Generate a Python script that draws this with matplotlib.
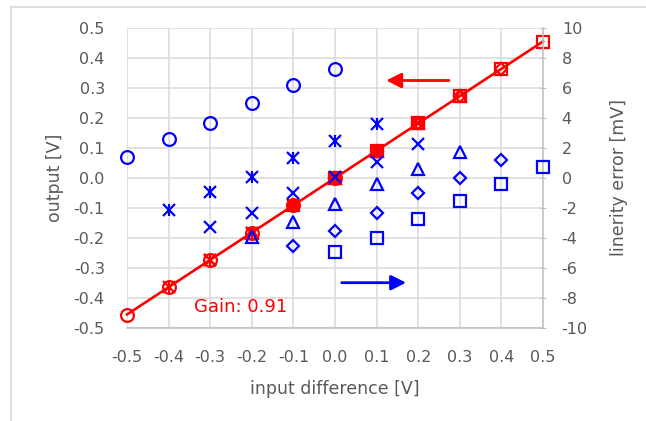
import matplotlib
matplotlib.use("Agg")
import matplotlib.pyplot as plt
from matplotlib.lines import Line2D

# ---- data ----
x_circle = [-0.5, -0.4, -0.3, -0.2, -0.1, 0.0]
x_star = [-0.4, -0.3, -0.2, -0.1, 0.0, 0.1]
x_cross = [-0.3, -0.2, -0.1, 0.0, 0.1, 0.2]
x_tri = [-0.2, -0.1, 0.0, 0.1, 0.2, 0.3]
x_dia = [-0.1, 0.0, 0.1, 0.2, 0.3, 0.4]
x_sq = [0.0, 0.1, 0.2, 0.3, 0.4, 0.5]

out_circle = [-0.455, -0.364, -0.273, -0.182, -0.091, 0.0]
out_star = [-0.364, -0.273, -0.182, -0.091, 0.0, 0.091]
out_cross = [-0.273, -0.182, -0.091, 0.0, 0.091, 0.182]
out_tri = [-0.182, -0.091, 0.0, 0.091, 0.182, 0.273]
out_dia = [-0.091, 0.0, 0.091, 0.182, 0.273, 0.364]
out_sq = [0.0, 0.091, 0.182, 0.273, 0.364, 0.455]

err_circle = [1.4, 2.6, 3.7, 5.0, 6.2, 7.25]
err_star = [-2.1, -0.9, 0.05, 1.35, 2.5, 3.6]
err_cross = [-3.25, -2.3, -1.0, 0.1, 1.1, 2.25]
err_tri = [-3.95, -2.9, -1.75, -0.4, 0.6, 1.75]
err_dia = [-4.55, -3.5, -2.35, -1.0, 0.0, 1.2]
err_sq = [-4.9, -4.0, -2.75, -1.5, -0.4, 0.75]

fit_x = [-0.5, 0.5]
fit_y = [-0.455, 0.455]

x_ticks = [-0.5, -0.4, -0.3, -0.2, -0.1, 0.0, 0.1, 0.2, 0.3, 0.4, 0.5]
y_ticks = [-0.5, -0.4, -0.3, -0.2, -0.1, 0.0, 0.1, 0.2, 0.3, 0.4, 0.5]
y2_ticks = [-10, -8, -6, -4, -2, 0, 2, 4, 6, 8, 10]

RED = "#FF0000"
BLUE = "#0000FF"
GRID = "#d9d9d9"
TXT = "#595959"

plt.rcParams['font.family'] = ['DejaVu Sans']

fig = plt.figure(figsize=(6.46, 4.21), dpi=100)
ax = fig.add_axes([127/646, 1 - 328/421, (543-127)/646, (328-28)/421])
ax2 = ax.twinx()

ax.set_xlim(-0.5, 0.5)
ax.set_ylim(-0.5, 0.5)
ax2.set_ylim(-10, 10)

ax.set_xticks(x_ticks)
ax.set_xticklabels([f"{v:.1f}" for v in x_ticks])
ax.set_yticks(y_ticks)
ax.set_yticklabels([f"{v:.1f}" for v in y_ticks])
ax2.set_yticks(y2_ticks)
ax2.set_yticklabels([str(v) for v in y2_ticks])

ax.grid(True, color=GRID, lw=1.1)
ax.set_axisbelow(True)
for s in ["top", "left", "right"]:
    ax.spines[s].set_visible(False)
ax.spines["bottom"].set_color("#bfbfbf")
ax.spines["bottom"].set_linewidth(1.1)
for s in ["top", "left", "bottom"]:
    ax2.spines[s].set_visible(False)
ax2.spines["right"].set_color("#bfbfbf")
ax2.spines["right"].set_linewidth(1.1)

ax.tick_params(axis="x", length=0, pad=15.5, labelsize=11.5, labelcolor=TXT)
ax.tick_params(axis="y", length=0, pad=16, labelsize=11.5, labelcolor=TXT)
ax2.tick_params(axis="y", length=5, direction="inout", color="#bfbfbf", pad=11,
                labelsize=11.5, labelcolor=TXT)

ax.set_xlabel("input difference [V]", fontsize=12.5, color=TXT, labelpad=11)
ax.set_ylabel("output [V]", fontsize=12.5, color=TXT, labelpad=7)
ax2.set_ylabel("linerity error [mV]", fontsize=12.5, color=TXT, labelpad=16)

ms = 9.2
mew = 1.6
# red (output, left axis)
ax.plot(fit_x, fit_y, color=RED, lw=1.9, zorder=2, clip_on=False)
kw = dict(ls="none", ms=ms, mew=mew, zorder=3, clip_on=False)
ax.plot(x_circle, out_circle, marker="o", mfc="none", mec=RED, **kw)
ax.plot(x_star, out_star, marker="x", mec=RED, **kw)
ax.plot(x_star, out_star, marker="|", mec=RED, **kw)
ax.plot(x_cross, out_cross, marker="x", mec=RED, **kw)
ax.plot(x_tri, out_tri, marker="^", mfc="none", mec=RED, **kw)
ax.plot(x_dia, out_dia, marker="D", mfc="none", mec=RED, **{**kw, "ms": 6.5})
ax.plot(x_sq, out_sq, marker="s", mfc="none", mec=RED, **kw)

# blue (error, right axis)
ax2.plot(x_circle, err_circle, marker="o", mfc="none", mec=BLUE, **kw)
ax2.plot(x_star, err_star, marker="x", mec=BLUE, **kw)
ax2.plot(x_star, err_star, marker="|", mec=BLUE, **kw)
ax2.plot(x_cross, err_cross, marker="x", mec=BLUE, **kw)
ax2.plot(x_tri, err_tri, marker="^", mfc="none", mec=BLUE, **kw)
ax2.plot(x_dia, err_dia, marker="D", mfc="none", mec=BLUE, **{**kw, "ms": 6.5})
ax2.plot(x_sq, err_sq, marker="s", mfc="none", mec=BLUE, **kw)

# arrows
ax2.annotate("", xy=(0.123, 6.5), xytext=(0.274, 6.5),
             arrowprops=dict(arrowstyle="-|>,head_length=0.9,head_width=0.45",
                             color=RED, lw=2, shrinkA=0, shrinkB=0))
ax2.annotate("", xy=(0.171, -6.98), xytext=(0.016, -6.98),
             arrowprops=dict(arrowstyle="-|>,head_length=0.9,head_width=0.45",
                             color=BLUE, lw=2, shrinkA=0, shrinkB=0))

ax.text(-0.228, -0.429, "Gain: 0.91", color=RED, fontsize=13, ha="center", va="center")

# chart border (partially visible)
fig.add_artist(Line2D([11/646, 11/646], [0, 1 - 7/421], transform=fig.transFigure,
                      color="#d9d9d9", lw=1.2))
fig.add_artist(Line2D([11/646, 1], [1 - 7/421, 1 - 7/421], transform=fig.transFigure,
                      color="#d9d9d9", lw=1.2))

fig.savefig("out.png", dpi=100)
